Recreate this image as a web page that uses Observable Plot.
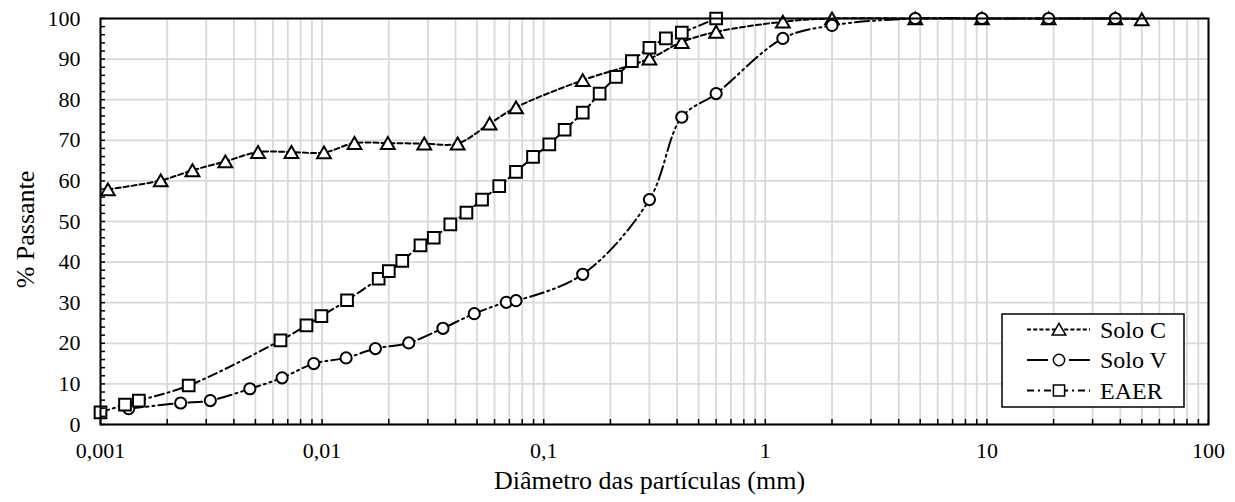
<!DOCTYPE html>
<html>
<head>
<meta charset="utf-8">
<script src="https://cdn.jsdelivr.net/npm/d3@7"></script>
<script src="https://cdn.jsdelivr.net/npm/@observablehq/plot@0.6"></script>
<style>
  html, body { margin: 0; padding: 0; background: white; }
  #chart { width: 1235px; height: 502px; }
</style>
</head>
<body>
<div id="chart"></div>
<script>
// ---- Data (diameter in mm, % passing) ----
const soloC_d = [0.00108, 0.00187, 0.0026, 0.00366, 0.00514, 0.00727, 0.0102, 0.014, 0.0198, 0.0289, 0.0409, 0.057, 0.075, 0.15, 0.3, 0.42, 0.6, 1.2, 2.0, 4.75, 9.5, 19, 38, 50];
const soloC_p = [57.9, 60.1, 62.6, 64.8, 67.1, 67.1, 67.0, 69.3, 69.3, 69.2, 69.2, 74.1, 78.1, 84.8, 90.1, 94.2, 96.7, 99.2, 100, 100, 100, 100, 100, 99.8];

const soloV_d = [0.00134, 0.0023, 0.00313, 0.00472, 0.0066, 0.00917, 0.01283, 0.0174, 0.0246, 0.0351, 0.0486, 0.0678, 0.075, 0.15, 0.3, 0.42, 0.6, 1.2, 2.0, 4.75, 9.5, 19, 38];
const soloV_p = [3.9, 5.3, 5.9, 8.8, 11.5, 15.0, 16.4, 18.7, 20.1, 23.7, 27.3, 30.1, 30.5, 37.0, 55.4, 75.7, 81.5, 95.1, 98.3, 100, 100, 100, 100];

const eaer_d = [0.001, 0.00129, 0.00149, 0.0025, 0.00649, 0.0085, 0.00993, 0.01296, 0.018, 0.02, 0.023, 0.0278, 0.0319, 0.0379, 0.0448, 0.0527, 0.063, 0.075, 0.0895, 0.106, 0.1243, 0.15, 0.1788, 0.212, 0.25, 0.3, 0.356, 0.42, 0.6];
const eaer_p = [3.0, 4.9, 5.9, 9.6, 20.7, 24.4, 26.7, 30.6, 35.9, 37.8, 40.3, 44.1, 46.0, 49.3, 52.2, 55.4, 58.7, 62.2, 65.9, 69.0, 72.6, 76.8, 81.5, 85.6, 89.5, 92.8, 95.1, 96.5, 100];

const seriesNames = ["Solo C", "Solo V", "EAER"];
const xTicks = [0.001, 0.01, 0.1, 1, 10, 100];
const xTickLabels = ["0,001", "0,01", "0,1", "1", "10", "100"];
const yTicks = [0, 10, 20, 30, 40, 50, 60, 70, 80, 90, 100];
const yTickLabels = ["0", "10", "20", "30", "40", "50", "60", "70", "80", "90", "100"];
const yMinorStep = 2;
const xLabel = "Diâmetro das partículas (mm)";
const yLabel = "% Passante";

// ---- Build tables ----
const toRows = (d, p) => d.map((v, i) => ({d: v, p: p[i]}));
const rowsC = toRows(soloC_d, soloC_p);
const rowsV = toRows(soloV_d, soloV_p);
const rowsE = toRows(eaer_d, eaer_p);
const xTickRows = xTicks.map((t, i) => ({t, label: xTickLabels[i]}));
const yTickRows = yTicks.map((t, i) => ({t, label: yTickLabels[i]}));

const xMinor = [];
for (let e = -3; e < 2; e++) for (let m = 1; m <= 9; m++) xMinor.push(+(m * Math.pow(10, e)).toPrecision(3));
xMinor.push(100);
const yMinor = d3.range(0, 100 + yMinorStep / 2, yMinorStep);

const FONT = "'Liberation Serif', 'Times New Roman', Times, serif";
const styles = {
  "Solo C": {dash: "5,3", symbol: "triangle", r: 5.1, dy: 1.9, legDash: "4,2.2", legSize: 80, legDy: 1.6},
  "Solo V": {dash: "14,4,2,4,2,4", symbol: "circle", r: 5.6, dy: 0, legDash: "21,21,21", legSize: 100, legDy: 0},
  "EAER":   {dash: "9,4,2,4", symbol: "square", r: 6.6, dy: 0, legDash: "7,4,2,4", legSize: 125, legDy: 0}
};

function seriesMarks(rows, name) {
  const s = styles[name];
  return [
    Plot.line(rows, {x: "d", y: "p", curve: "catmull-rom", stroke: "black", strokeWidth: 2, strokeDasharray: s.dash}),
    Plot.dot(rows, {x: "d", y: "p", symbol: s.symbol, r: s.r, dy: s.dy, fill: "white", stroke: "black", strokeWidth: 2})
  ];
}

const chart = Plot.plot({
  width: 1235,
  height: 502,
  marginLeft: 100,
  marginRight: 27,
  marginTop: 18,
  marginBottom: 78,
  style: {fontFamily: FONT, fontSize: "22px", background: "white", color: "black"},
  x: {type: "log", domain: [0.001, 100]},
  y: {domain: [0, 100]},
  marks: [
    Plot.gridX(xMinor, {stroke: "#d9d9d9", strokeOpacity: 1, strokeWidth: 1.8}),
    Plot.gridY(yTicks, {stroke: "#d9d9d9", strokeOpacity: 1, strokeWidth: 1.8}),
    ...seriesMarks(rowsC, "Solo C"),
    ...seriesMarks(rowsV, "Solo V"),
    ...seriesMarks(rowsE, "EAER"),
    Plot.axisX(xMinor, {tickSize: -5, strokeWidth: 1.5, tickFormat: () => "", label: null}),
    Plot.axisY(yMinor, {tickSize: -5, strokeWidth: 1.5, tickFormat: () => "", label: null}),
    Plot.text(xTickRows, {x: "t", y: () => 0, text: "label", dy: 26, fontSize: 22, textAnchor: "middle"}),
    Plot.text(yTickRows, {x: () => 0.001, y: "t", text: "label", dx: -20, fontSize: 22, textAnchor: "end"}),
    Plot.frame({stroke: "black", strokeWidth: 2}),
    Plot.text([xLabel], {frameAnchor: "bottom", dx: -5, dy: 64, fontSize: 26, textAnchor: "middle", text: d => d}),
    Plot.text([yLabel], {frameAnchor: "left", dx: -75, dy: 8, rotate: -90, fontSize: 26, textAnchor: "middle", text: d => d})
  ]
});

// ---- Legend box (inside plot frame, bottom-right) ----
const svg = d3.select(chart);
const lg = svg.append("g").attr("transform", "translate(1002,314)").attr("text-anchor", "start");
lg.append("rect").attr("width", 182).attr("height", 93).attr("fill", "white").attr("stroke", "black").attr("stroke-width", 1.5);
seriesNames.forEach((name, i) => {
  const s = styles[name];
  const cy = 15.5 + i * 30.5;
  const row = lg.append("g").attr("transform", `translate(0,${cy})`);
  row.append("line").attr("x1", 25).attr("x2", 88).attr("y1", 0).attr("y2", 0)
    .attr("stroke", "black").attr("stroke-width", 2)
    .attr("stroke-dasharray", s.legDash);
  const sym = {triangle: d3.symbolTriangle, circle: d3.symbolCircle, square: d3.symbolSquare}[s.symbol];
  row.append("path").attr("d", d3.symbol(sym, s.legSize)())
    .attr("transform", `translate(57,${s.legDy})`)
    .attr("fill", "white").attr("stroke", "black").attr("stroke-width", 1.5);
  row.append("text").attr("x", 98).attr("y", 0).attr("dy", "0.35em").attr("text-anchor", "start")
    .attr("font-family", FONT).attr("font-size", 24).attr("fill", "black").text(name);
});

document.getElementById("chart").appendChild(chart);
</script>
</body>
</html>
